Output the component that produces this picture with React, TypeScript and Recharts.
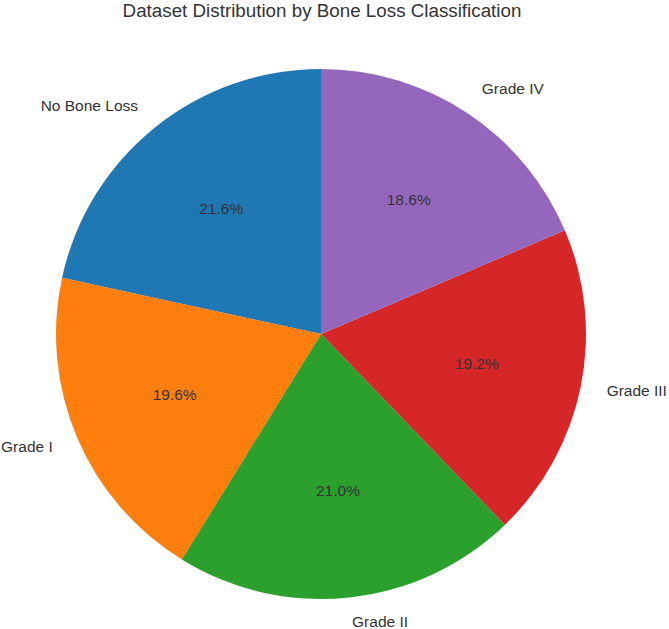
import React from 'react';
import { PieChart, Pie, Cell } from 'recharts';

const categories = ['No Bone Loss', 'Grade I', 'Grade II', 'Grade III', 'Grade IV'];
const percentages = [21.6, 19.6, 21.0, 19.2, 18.6];
const colors = ['#1f77b4', '#ff7f0e', '#2ca02c', '#d62728', '#9467bd'];

const data = categories.map((name, i) => ({ name, value: percentages[i] }));

const RAD = Math.PI / 180;
const FONT = '"Liberation Sans", Arial, sans-serif';

const renderLabel = (props: any) => {
  const { cx, cy, midAngle, outerRadius, index } = props;
  const cos = Math.cos(-midAngle * RAD);
  const sin = Math.sin(-midAngle * RAD);
  const lx = cx + outerRadius * 1.1 * cos;
  const ly = cy + outerRadius * 1.1 * sin - 2;
  const px = cx + outerRadius * 0.6 * cos;
  const py = cy + outerRadius * 0.6 * sin - 2;
  return (
    <g>
      <text
        x={lx}
        y={ly}
        textAnchor={cos > 0 ? 'start' : 'end'}
        dominantBaseline="central"
        fontFamily={FONT}
        fontSize={15.5}
        fill="#333333"
      >
        {categories[index]}
      </text>
      <text
        x={px}
        y={py}
        textAnchor="middle"
        dominantBaseline="central"
        fontFamily={FONT}
        fontSize={15.5}
        fill="#333333"
      >
        {percentages[index].toFixed(1)}%
      </text>
    </g>
  );
};

export default function App() {
  return (
    <div style={{ position: 'absolute', left: 0, top: 0, width: 669, height: 629, background: '#fff' }}>
      <PieChart width={669} height={629} margin={{ top: 0, right: 0, bottom: 0, left: 0 }}>
        <text
          x={322}
          y={10}
          textAnchor="middle"
          dominantBaseline="central"
          fontFamily={FONT}
          fontSize={18.8}
          fill="#333333"
        >
          Dataset Distribution by Bone Loss Classification
        </text>
        <Pie
          data={data}
          dataKey="value"
          nameKey="name"
          cx={321}
          cy={334}
          outerRadius={265}
          startAngle={90}
          endAngle={450}
          stroke="none"
          label={renderLabel}
          labelLine={false}
          isAnimationActive={false}
        >
          {data.map((d, i) => (
            <Cell key={d.name} fill={colors[i]} />
          ))}
        </Pie>
      </PieChart>
    </div>
  );
}
